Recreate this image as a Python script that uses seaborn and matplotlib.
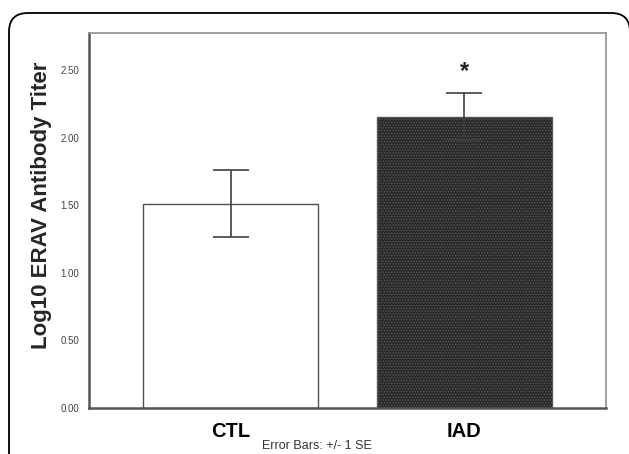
import matplotlib
matplotlib.use("Agg")
import matplotlib.pyplot as plt
from matplotlib.patches import FancyBboxPatch
import seaborn as sns
import pandas as pd

# data
groups = ["CTL", "IAD"]
means = [1.51, 2.155]
se = [0.247, 0.174]
y_ticks = [0.0, 0.5, 1.0, 1.5, 2.0, 2.5]
y_label = "Log10 ERAV Antibody Titer"
caption = "Error Bars: +/- 1 SE"

df = pd.DataFrame({"Group": groups, "Titer": means})

sns.set_style("white")
plt.rcParams["font.family"] = ["Liberation Sans", "DejaVu Sans"]
plt.rcParams["hatch.linewidth"] = 0.6

fig = plt.figure(figsize=(6.29, 4.54), dpi=100)
ax = fig.add_axes([89 / 629, 1 - 408 / 454, 517 / 629, 375 / 454])

sns.barplot(data=df, x="Group", y="Titer", hue="Group", palette=["white", "#2a2a2a"],
            width=0.75, errorbar=None, legend=False, ax=ax,
            edgecolor="#505050", linewidth=1.0)

# stipple on the IAD bar
ax.patches[1].set_hatch("......")
ax.patches[1].set_edgecolor("#5a5a5a")

ax.errorbar(range(len(groups)), means, yerr=se, fmt="none", ecolor="#404040",
            elinewidth=1.2, capsize=13, capthick=1.2, zorder=5)

# significance marker
ax.text(1, 2.49, "*", ha="center", va="center", fontsize=17, fontweight="bold", color="#222222")

ax.set_xlim(-0.607, 1.607)
ax.set_ylim(0, 2.774)
ax.set_yticks(y_ticks)
ax.set_yticklabels([f"{v:.2f}" for v in y_ticks], fontsize=7, color="#444444")
ax.set_xticks(range(len(groups)))
ax.set_xticklabels(groups, fontsize=14.5, fontweight="bold", color="black")
ax.tick_params(axis="y", direction="out", length=6, width=1.2, color="#404040", pad=1)
ax.tick_params(axis="x", direction="out", length=6, width=1.0, color="#404040", pad=4)
ax.set_xlabel("")
ax.set_ylabel(y_label, fontsize=16, fontweight="bold")
ax.yaxis.set_label_coords(-0.072, 0.54)

for side in ["left", "bottom"]:
    ax.spines[side].set_color("#555555")
    ax.spines[side].set_linewidth(1.8)
for side in ["top", "right"]:
    ax.spines[side].set_color("#999999")
    ax.spines[side].set_linewidth(1.3)

fig.text(0.504, 1 - 446 / 454, caption, ha="center", va="center", fontsize=9, color="#333333")

# rounded outer frame running off the image at right and bottom
frame = FancyBboxPatch((9 / 629, -0.1), 621 / 629, 1.1 - 13 / 454,
                       boxstyle="round,pad=0,rounding_size=0.03",
                       transform=fig.transFigure, fill=False,
                       edgecolor="black", linewidth=1.3, mutation_aspect=629 / 454)
fig.patches.append(frame)

fig.savefig("out.png", dpi=100)
